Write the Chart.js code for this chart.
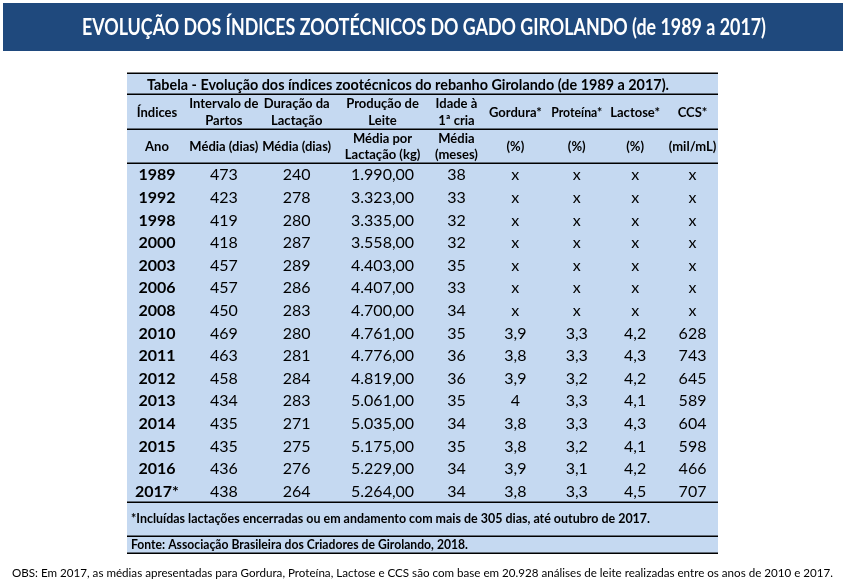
<!DOCTYPE html>
<html>
<head>
<meta charset="utf-8">
<script src="https://cdn.jsdelivr.net/npm/chart.js@4.4.1/dist/chart.umd.min.js"></script>
<style>
  html, body { margin: 0; padding: 0; background: #fff; }
  #wrap { width: 848px; height: 588px; position: relative; }
</style>
</head>
<body>
<div id="wrap"><canvas id="tabela"></canvas></div>
<script>
// dados da tabela
const anos = ['1989','1992','1998','2000','2003','2006','2008','2010','2011','2012','2013','2014','2015','2016','2017*'];
const intervaloPartos = [473,423,419,418,457,457,450,469,463,458,434,435,435,436,438];
const duracaoLactacao = [240,278,280,287,289,286,283,280,281,284,283,271,275,276,264];
const producaoLeite = [1990,3323,3335,3558,4403,4407,4700,4761,4776,4819,5061,5035,5175,5229,5264];
const idadePrimeiraCria = [38,33,32,32,35,33,34,35,36,36,35,34,35,34,34];
const gordura = [null,null,null,null,null,null,null,3.9,3.8,3.9,4,3.8,3.8,3.9,3.8];
const proteina = [null,null,null,null,null,null,null,3.3,3.3,3.2,3.3,3.3,3.2,3.1,3.3];
const lactose = [null,null,null,null,null,null,null,4.2,4.3,4.2,4.1,4.3,4.1,4.2,4.5];
const ccs = [null,null,null,null,null,null,null,628,743,645,589,604,598,466,707];

const cabecalho1 = [['Índices'],['Intervalo de','Partos'],['Duração da','Lactação'],['Produção de','Leite'],['Idade à','1ª cria'],['Gordura*'],['Proteína*'],['Lactose*'],['CCS*']];
const cabecalho2 = [['Ano'],['Média (dias)'],['Média (dias)'],['Média por','Lactação (kg)'],['Média','(meses)'],['(%)'],['(%)'],['(%)'],['(mil/mL)']];

const titulo = 'EVOLUÇÃO DOS ÍNDICES ZOOTÉCNICOS DO GADO GIROLANDO (de 1989 a 2017)';
const tituloTabela = 'Tabela - Evolução dos índices zootécnicos do rebanho Girolando (de 1989 a 2017).';
const notaTabela = '*Incluídas lactações encerradas ou em andamento com mais de 305 dias, até outubro de 2017.';
const fonteTabela = 'Fonte: Associação Brasileira dos Criadores de Girolando, 2018.';
const obs = 'OBS: Em 2017, as médias apresentadas para Gordura, Proteína, Lactose e CCS são com base em 20.928 análises de leite realizadas entre os anos de 2010 e 2017.';

// layout (larguras de coluna e alturas de linha, em unidades das escalas)
const colWidths = [60,74,72,100,48,70,53,64,51];
const hTitulo = 21, hCab1 = 35, hCab2 = 34, hLinha = 22.6, hNota = 34, hFonte = 17;

function fmtMilhar(v) {
  const s = v.toFixed(2).split('.');
  return s[0].replace(/\B(?=(\d{3})+(?!\d))/g, '.') + ',' + s[1];
}
function fmtDec(v) {
  return v === null ? 'x' : String(v).replace('.', ',');
}

const colunas = [
  anos,
  intervaloPartos.map(String),
  duracaoLactacao.map(String),
  producaoLeite.map(fmtMilhar),
  idadePrimeiraCria.map(String),
  gordura.map(fmtDec),
  proteina.map(fmtDec),
  lactose.map(fmtDec),
  ccs.map(fmtDec)
];

const colEdges = [0];
colWidths.forEach(w => colEdges.push(colEdges[colEdges.length - 1] + w));
const colCenters = colWidths.map((w, i) => colEdges[i] + w / 2);

const yCab1 = hTitulo, yCab2 = yCab1 + hCab1, yDados = yCab2 + hCab2;
const yNota = yDados + anos.length * hLinha, yFonte = yNota + hNota, yFim = yFonte + hFonte;
const rowCenters = anos.map((a, i) => yDados + (i + 0.5) * hLinha);

const datasets = colunas.map((vals, c) => ({
  label: 'col' + c,
  labels: vals,
  data: vals.map((v, r) => ({ x: colCenters[c], y: rowCenters[r] })),
  pointRadius: 0,
  bold: c === 0
}));

const FONT = 'Lato, "Open Sans", sans-serif';

const tabelaPlugin = {
  id: 'tabela',
  beforeDraw(chart) {
    const ctx = chart.ctx;
    const { x, y } = chart.scales;
    ctx.save();
    // faixa do título
    ctx.fillStyle = '#1F497D';
    ctx.fillRect(3, 3, 840, 48);
    ctx.fillStyle = '#ffffff';
    ctx.font = 'bold 23px ' + FONT;
    ctx.textAlign = 'center';
    ctx.textBaseline = 'middle';
    ctx.fillText(titulo, 424, 28, 684);
    // fundo da tabela
    const l = x.getPixelForValue(0), r = x.getPixelForValue(colEdges[colEdges.length - 1]);
    const t = y.getPixelForValue(0), b = y.getPixelForValue(yFim);
    ctx.fillStyle = '#C5D9F1';
    ctx.fillRect(l, t, r - l, b - t);
    ctx.restore();
  },
  afterDatasetsDraw(chart) {
    const ctx = chart.ctx;
    const { x, y } = chart.scales;
    const l = x.getPixelForValue(0), r = x.getPixelForValue(colEdges[colEdges.length - 1]);
    ctx.save();
    ctx.fillStyle = '#000';
    ctx.textBaseline = 'middle';

    // valores
    chart.data.datasets.forEach((ds, i) => {
      const meta = chart.getDatasetMeta(i);
      ctx.font = (ds.bold ? 'bold ' : '') + '16px ' + FONT;
      ctx.textAlign = 'center';
      meta.data.forEach((pt, j) => {
        ctx.fillText(ds.labels[j], pt.x, pt.y + 1);
      });
    });

    // título da tabela
    ctx.font = 'bold 15.5px ' + FONT;
    ctx.textAlign = 'left';
    ctx.fillText(tituloTabela, l + 20, y.getPixelForValue(hTitulo / 2) + 1, 522);

    // cabeçalhos
    ctx.font = 'bold 13px ' + FONT;
    ctx.textAlign = 'center';
    const cab = (linhas, y0, h) => {
      linhas.forEach((txts, c) => {
        const cx = x.getPixelForValue(colCenters[c]);
        const cy = y.getPixelForValue(y0 + h / 2);
        const n = txts.length;
        txts.forEach((s, k) => {
          ctx.fillText(s, cx, cy + (k - (n - 1) / 2) * 16.5 + 1, colWidths[c] - 2);
        });
      });
    };
    cab(cabecalho1, yCab1, hCab1);
    cab(cabecalho2, yCab2, hCab2);

    // nota e fonte
    ctx.font = 'bold 13px ' + FONT;
    ctx.textAlign = 'left';
    ctx.fillText(notaTabela, l + 4, y.getPixelForValue(yNota + hNota / 2), 519);
    ctx.fillText(fonteTabela, l + 4, y.getPixelForValue(yFonte + hFonte / 2), 337);

    // linhas horizontais
    ctx.strokeStyle = '#000';
    ctx.lineWidth = 1.5;
    [0, yCab1, yCab2, yDados, yNota, yFonte, yFim].forEach(v => {
      const py = Math.round(y.getPixelForValue(v)) + 0.25;
      ctx.beginPath();
      ctx.moveTo(l, py);
      ctx.lineTo(r, py);
      ctx.stroke();
    });

    // observação
    ctx.font = '12px ' + FONT;
    ctx.textAlign = 'left';
    ctx.fillText(obs, 12, 573, 821);
    ctx.restore();
  }
};

new Chart(document.getElementById('tabela'), {
  type: 'scatter',
  data: { datasets: datasets },
  options: {
    responsive: true,
    maintainAspectRatio: false,
    animation: false,
    events: [],
    layout: { padding: { left: 127, right: 130, top: 73, bottom: 35 } },
    plugins: { legend: { display: false }, tooltip: { enabled: false } },
    scales: {
      x: { type: 'linear', display: false, min: 0, max: colEdges[colEdges.length - 1] },
      y: { type: 'linear', display: false, reverse: true, min: 0, max: yFim }
    }
  },
  plugins: [tabelaPlugin]
});
</script>
</body>
</html>
